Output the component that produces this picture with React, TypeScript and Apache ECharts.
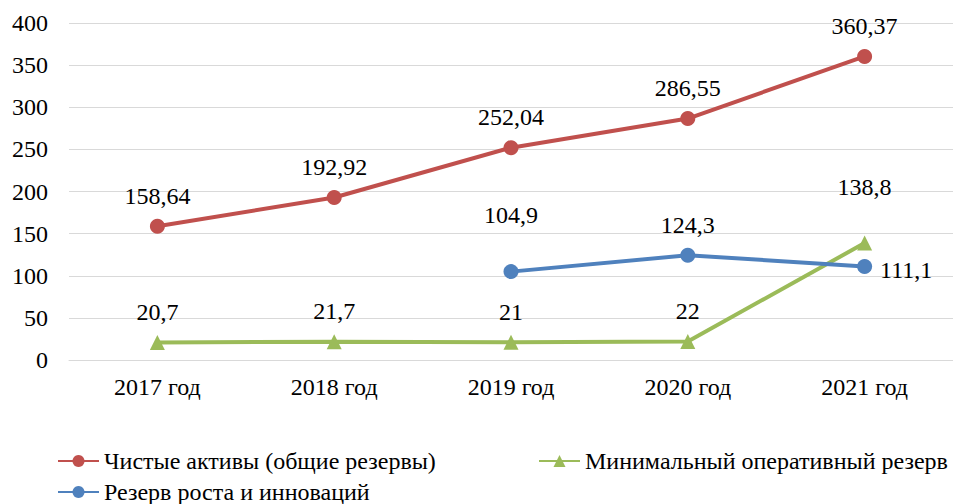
import React, { useEffect, useRef } from "react";
import * as echarts from "echarts";

const categories = ["2017 год", "2018 год", "2019 год", "2020 год", "2021 год"];
const netAssets = [158.64, 192.92, 252.04, 286.55, 360.37];
const minReserve = [20.7, 21.7, 21, 22, 138.8];
const growthReserve: (number | null)[] = [null, null, 104.9, 124.3, 111.1];
const yTicks = [0, 50, 100, 150, 200, 250, 300, 350, 400];

const NAME_RED = "Чистые активы (общие резервы)";
const NAME_GREEN = "Минимальный оперативный резерв";
const NAME_BLUE = "Резерв роста и инноваций";

const FONT = "Liberation Serif";
const fmt = (p: any) => String(p.value).replace(".", ",");

export default function App() {
  const ref = useRef<HTMLDivElement>(null);
  useEffect(() => {
    if (!ref.current) return;
    const chart = echarts.init(ref.current, null, { renderer: "svg" });
    const labelBase = {
      show: true,
      position: "top" as const,
      distance: 11,
      color: "#000",
      fontFamily: FONT,
      fontSize: 24,
      formatter: fmt,
    };
    const legendBase = {
      itemWidth: 41,
      itemHeight: 15,
      itemGap: 0,
      padding: 0,
      textStyle: { color: "#000", fontFamily: FONT, fontSize: 24 },
    };
    chart.setOption({
      animation: false,
      textStyle: { fontFamily: FONT },
      grid: { left: 69, right: -6, top: 23, bottom: 144, containLabel: false },
      legend: [
        { ...legendBase, left: 57, top: 449, data: [NAME_RED] },
        { ...legendBase, left: 538, top: 449, data: [NAME_GREEN] },
        { ...legendBase, left: 57, top: 480, data: [NAME_BLUE] },
      ],
      xAxis: {
        type: "category",
        data: categories,
        boundaryGap: true,
        axisLine: { show: true, lineStyle: { color: "#d9d9d9", width: 1 } },
        axisTick: { show: false },
        axisLabel: { color: "#000", fontFamily: FONT, fontSize: 24, margin: 15 },
      },
      yAxis: {
        type: "value",
        min: yTicks[0],
        max: yTicks[yTicks.length - 1],
        interval: 50,
        axisLine: { show: false },
        axisTick: { show: false },
        splitLine: { lineStyle: { color: "#d9d9d9", width: 1 } },
        axisLabel: { color: "#000", fontFamily: FONT, fontSize: 24, margin: 21 },
      },
      series: [
        {
          name: NAME_RED,
          type: "line",
          data: netAssets,
          symbol: "circle",
          symbolSize: 15,
          color: "#C0504D",
          lineStyle: { width: 4, color: "#C0504D" },
          itemStyle: { color: "#C0504D" },
          label: labelBase,
          z: 3,
        },
        {
          name: NAME_GREEN,
          type: "line",
          data: minReserve.map((v, i) =>
            i === 4 ? { value: v, label: { offset: [0, -26] } } : v
          ),
          symbol: "triangle",
          symbolSize: 15,
          color: "#9BBB59",
          lineStyle: { width: 4, color: "#9BBB59" },
          itemStyle: { color: "#9BBB59" },
          label: labelBase,
          z: 2,
        },
        {
          name: NAME_BLUE,
          type: "line",
          data: growthReserve.map((v, i) =>
            i === 2
              ? { value: v, label: { offset: [0, -26] } }
              : i === 4
              ? { value: v, label: { position: "right", distance: 8, offset: [0, 4] } }
              : v
          ),
          symbol: "circle",
          symbolSize: 15,
          color: "#4F81BD",
          lineStyle: { width: 4, color: "#4F81BD" },
          itemStyle: { color: "#4F81BD" },
          label: labelBase,
          connectNulls: false,
          z: 4,
        },
      ],
    });
    return () => chart.dispose();
  }, []);
  return (
    <div
      ref={ref}
      style={{ position: "absolute", left: 0, top: 0, width: 953, height: 504, background: "#fff" }}
    />
  );
}
